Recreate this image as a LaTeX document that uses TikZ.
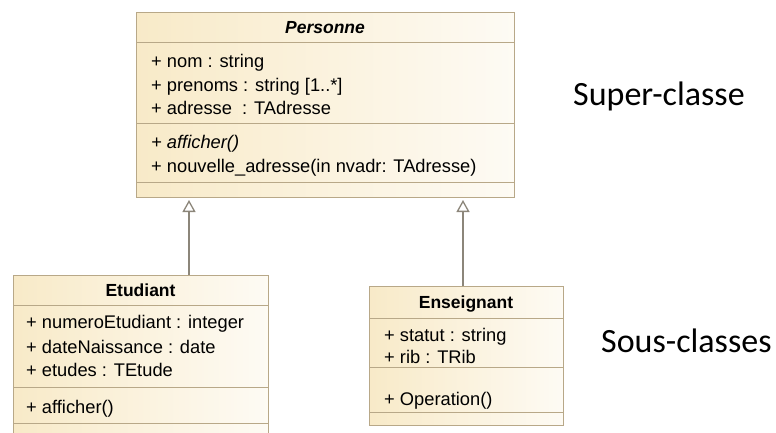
\documentclass[tikz,border=0pt]{standalone}
\usepackage{fontspec}
\setmainfont{Liberation Sans}
\newfontfamily\lblfont{Carlito}
\usepackage{tikz}
\usetikzlibrary{arrows.meta}

\definecolor{clsline}{RGB}{184,168,136}
\definecolor{clsfill}{RGB}{248,234,200}
\definecolor{inhline}{RGB}{140,134,122}

\tikzset{
  part/.style={draw=clsline, line width=1pt, left color=clsfill, right color=clsfill!20!white, anchor=north west, inner sep=0pt},
  member/.style={anchor=base west, inner sep=0pt, font=\fontsize{18.3}{22}\selectfont},
  cname/.style={anchor=base, inner sep=0pt, font=\fontsize{17.5}{21}\selectfont\bfseries},
  inherit/.style={draw=inhline, line width=1.3pt, -{Triangle[open, length=12pt, width=13pt, line width=1.3pt]}},
  side/.style={anchor=base west, inner sep=0pt, font=\lblfont\fontsize{34}{40}\selectfont}
}

\begin{document}
\begin{tikzpicture}[x=1pt, y=-1pt]
  \useasboundingbox (0,0) rectangle (776,432);

  % Personne
  \node[part, minimum width=378pt, minimum height=30pt] (pT) at (136,12) {};
  \node[part, minimum width=378pt, minimum height=81pt] (pA) at (136,42) {};
  \node[part, minimum width=378pt, minimum height=59pt] (pM) at (136,123) {};
  \node[part, minimum width=378pt, minimum height=15pt] (pE) at (136,182) {};
  \node[cname, font=\fontsize{17.5}{21}\selectfont\bfseries\itshape] (pName) at (325,33) {Personne};
  \foreach \y/\t/\n in {67/{+ nom : string}/pa1, 91/{+ prenoms : string [1..*]}/pa2, 114/{+ adresse~ : TAdresse}/pa3, 172/{+ nouvelle\_adresse(in nvadr: TAdresse)}/pm2}
  {
  \node[member] (\n) at (151,\y) {\t};
  }
  \node[member, font=\fontsize{18.3}{22}\selectfont\itshape] (pm1) at (151,148) {+ afficher()};

  % Etudiant
  \node[part, minimum width=255pt, minimum height=30pt] (eT) at (13,275) {};
  \node[part, minimum width=255pt, minimum height=82pt] (eA) at (13,305) {};
  \node[part, minimum width=255pt, minimum height=36pt] (eM) at (13,387) {};
  \node[part, minimum width=255pt, minimum height=22pt] (eE) at (13,423) {};
  \node[cname] (eName) at (140.5,296) {Etudiant};
  \foreach \y/\t/\n in {328/{+ numeroEtudiant : integer}/ea1, 353/{+ dateNaissance : date}/ea2, 376/{+ etudes : TEtude}/ea3, 413/{+ afficher()}/em1}
  {
  \node[member] (\n) at (26,\y) {\t};
  }

  % Enseignant
  \node[part, minimum width=194pt, minimum height=32pt] (sT) at (369,286) {};
  \node[part, minimum width=194pt, minimum height=49pt] (sA) at (369,318) {};
  \node[part, minimum width=194pt, minimum height=45pt] (sM) at (369,367) {};
  \node[part, minimum width=194pt, minimum height=13pt] (sE) at (369,412) {};
  \node[cname] (sName) at (466,308) {Enseignant};
  \foreach \y/\t/\n in {341/{+ statut : string}/sa1, 363/{+ rib : TRib}/sa2, 405/{+ Operation()}/sm1}
  {
  \node[member] (\n) at (384,\y) {\t};
  }

  % heritage
  \coordinate (aL) at (189,0);
  \coordinate (aR) at (463,0);
  \draw[inherit] (eT.north -| aL) -- ([yshift=-2pt]pE.south -| aL);
  \draw[inherit] (sT.north -| aR) -- ([yshift=-2pt]pE.south -| aR);

  \node[side] (sup) at (573,105) {Super-classe};
  \node[side] (sous) at (601,352) {Sous-classes};
\end{tikzpicture}
\end{document}
